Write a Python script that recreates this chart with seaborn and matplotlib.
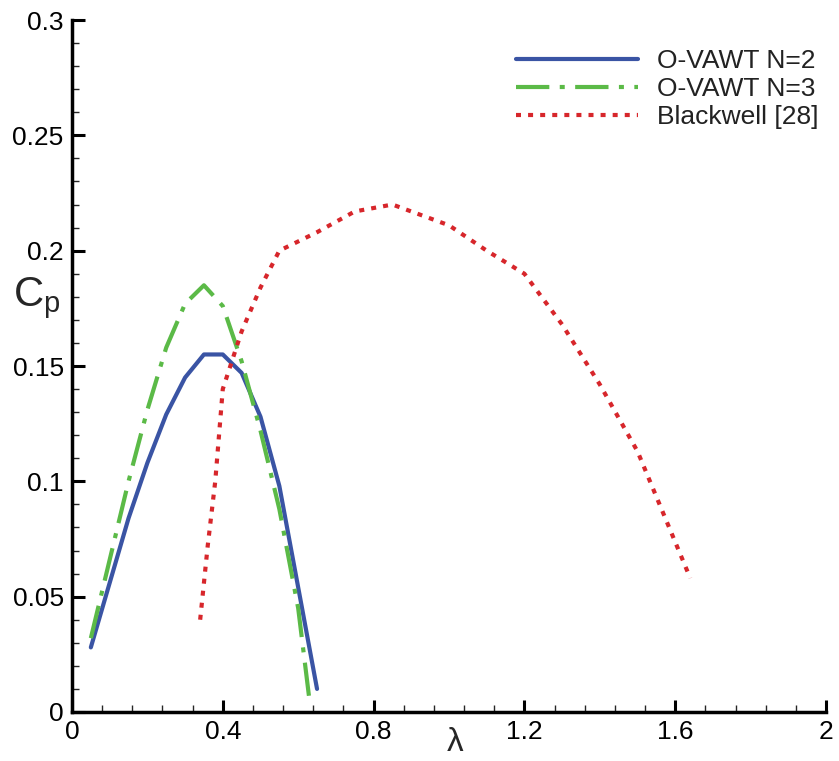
import matplotlib
matplotlib.use("Agg")
import matplotlib.pyplot as plt
import seaborn as sns
import pandas as pd
from matplotlib.ticker import MultipleLocator, FuncFormatter

sns.set_style("white")
plt.rcParams['font.family'] = ['Liberation Sans', 'DejaVu Sans']
plt.rcParams['mathtext.fontset'] = 'custom'
plt.rcParams['mathtext.rm'] = 'Liberation Sans'

# Data
lam_n2 = [0.05, 0.10, 0.15, 0.20, 0.25, 0.30, 0.35, 0.40, 0.45, 0.50, 0.55, 0.60, 0.65]
cp_n2 = [0.028, 0.056, 0.084, 0.108, 0.129, 0.145, 0.155, 0.155, 0.147, 0.128, 0.098, 0.054, 0.010]

lam_n3 = [0.05, 0.10, 0.15, 0.20, 0.25, 0.30, 0.35, 0.40, 0.45, 0.50, 0.55, 0.60, 0.63]
cp_n3 = [0.032, 0.066, 0.100, 0.131, 0.158, 0.177, 0.185, 0.176, 0.152, 0.122, 0.088, 0.045, 0.005]

lam_bw = [0.34, 0.36, 0.38, 0.40, 0.45, 0.50, 0.55, 0.65, 0.75, 0.85, 1.00, 1.10, 1.20, 1.30, 1.40, 1.50, 1.64]
cp_bw = [0.040, 0.072, 0.100, 0.140, 0.165, 0.184, 0.200, 0.208, 0.217, 0.220, 0.211, 0.200, 0.190, 0.168, 0.142, 0.113, 0.058]

labels = ["O-VAWT N=2", "O-VAWT N=3", "Blackwell [28]"]
colors = ["#3a54a4", "#5bba47", "#d7262b"]

fig = plt.figure(figsize=(8.39, 7.61), dpi=100)
ax = fig.add_axes([0.0858, 0.0644, 0.8987, 0.9093])

series = [(lam_n2, cp_n2), (lam_n3, cp_n3), (lam_bw, cp_bw)]
styles = [None, (8, 2.5, 1.2, 2.5), (1.2, 1.7)]
for (x, y), lab, c, dash in zip(series, labels, colors, styles):
    df = pd.DataFrame({"lam": x, "cp": y})
    sns.lineplot(data=df, x="lam", y="cp", ax=ax, color=c, lw=3.0, label=lab,
                 sort=False, estimator=None)
    line = ax.get_lines()[-1]
    if dash is not None:
        line.set_dashes(dash)
        line.set_dash_capstyle('butt')

ax.set_xlim(0, 2)
ax.set_ylim(0, 0.3)
ax.xaxis.set_major_locator(MultipleLocator(0.4))
ax.xaxis.set_minor_locator(MultipleLocator(0.08))
ax.yaxis.set_major_locator(MultipleLocator(0.05))
ax.yaxis.set_minor_locator(MultipleLocator(0.01))
fmt = FuncFormatter(lambda v, p: ("%.2f" % v).rstrip("0").rstrip(".") if abs(v) > 1e-9 else "0")
ax.xaxis.set_major_formatter(fmt)
ax.yaxis.set_major_formatter(fmt)

for s in ["top", "right"]:
    ax.spines[s].set_visible(False)
for s in ["left", "bottom"]:
    ax.spines[s].set_linewidth(2.5)
    ax.spines[s].set_color("black")

ax.tick_params(which="major", direction="in", length=9, width=2.2, labelsize=19,
               colors="black", pad=6, bottom=True, left=True)
ax.tick_params(which="minor", direction="in", length=5, width=1.0, bottom=True, left=True)

ax.set_xlabel("λ", fontsize=24, labelpad=0)
ax.xaxis.set_label_coords(0.508, -0.022)
ax.set_ylabel(r"$\mathregular{C_p}$", fontsize=30, rotation=0, labelpad=0)
ax.yaxis.set_label_coords(-0.047, 0.565)

leg = ax.legend(loc="upper right", bbox_to_anchor=(1.015, 0.985), frameon=False, fontsize=19,
                handlelength=4.6, handletextpad=0.75, labelspacing=0.15, borderaxespad=0.3)
for t in leg.get_texts():
    t.set_color("#222222")

fig.savefig("out.png", dpi=100, facecolor="white")
